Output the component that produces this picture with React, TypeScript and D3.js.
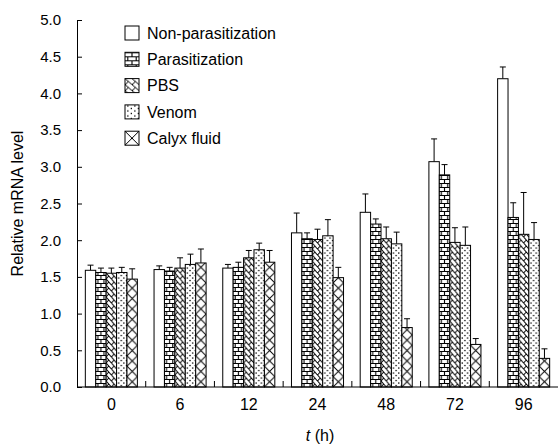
import React, { useEffect, useRef } from "react";
import * as d3 from "d3";

const times = ["0", "6", "12", "24", "48", "72", "96"];
const seriesNames = ["Non-parasitization", "Parasitization", "PBS", "Venom", "Calyx fluid"];

const nonParasitization = [1.59, 1.6, 1.62, 2.1, 2.38, 3.07, 4.2];
const nonParasitizationErr = [0.07, 0.05, 0.05, 0.27, 0.25, 0.31, 0.16];
const parasitization = [1.56, 1.58, 1.63, 2.02, 2.22, 2.89, 2.31];
const parasitizationErr = [0.06, 0.05, 0.07, 0.08, 0.07, 0.14, 0.2];
const pbs = [1.55, 1.62, 1.76, 2.01, 2.02, 1.97, 2.08];
const pbsErr = [0.07, 0.14, 0.1, 0.14, 0.16, 0.2, 0.57];
const venom = [1.56, 1.67, 1.87, 2.06, 1.95, 1.93, 2.01];
const venomErr = [0.07, 0.14, 0.09, 0.22, 0.16, 0.25, 0.23];
const calyx = [1.47, 1.69, 1.7, 1.49, 0.81, 0.58, 0.39];
const calyxErr = [0.14, 0.19, 0.16, 0.14, 0.12, 0.08, 0.13];

const yTicks = [0, 0.5, 1, 1.5, 2, 2.5, 3, 3.5, 4, 4.5, 5];

const FONT = "'Liberation Sans', Arial, sans-serif";

// draws the tile content of a pattern for a given series, tile width w
function fillPattern(p: any, kind: number, w: number) {
  if (kind === 1) {
    p.append("path")
      .attr("d", `M0,0.5H${w}M0,4.5H${w}M${w / 2},0.5V4.5M${w * 0.2},4.5V8.5M${w * 0.8},4.5V8.5`)
      .attr("stroke", "#000").attr("stroke-width", 1.1).attr("fill", "none");
  } else if (kind === 2) {
    p.append("path")
      .attr("d", `M0,0L${w / 2},6M${w / 2},0L${w},6M${w / 2},6L${w * 0.75},3M0,6L${w * 0.25},3`)
      .attr("stroke", "#000").attr("stroke-width", 1).attr("fill", "none");
  } else if (kind === 3) {
    [[0.2, 1], [0.7, 1], [0.45, 3.5], [0.95, 3.5]].forEach(([fx, fy]) => {
      p.append("rect").attr("x", w * fx - 0.6).attr("y", fy - 0.6).attr("width", 1.3).attr("height", 1.3).attr("fill", "#000");
    });
  } else if (kind === 4) {
    p.append("path")
      .attr("d", `M0,0L${w},${w}M${w},0L0,${w}`)
      .attr("stroke", "#000").attr("stroke-width", 1).attr("fill", "none");
  }
}

function tileHeight(kind: number, w: number) {
  if (kind === 1) return 8;
  if (kind === 2) return 6;
  if (kind === 3) return 5;
  return w;
}

export default function App() {
  const ref = useRef<SVGSVGElement>(null);

  useEffect(() => {
    const width = 558;
    const height = 446;
    const left = 77;
    const right = 558;
    const top = 20;
    const bottom = 387;

    const values = [nonParasitization, parasitization, pbs, venom, calyx];
    const errs = [nonParasitizationErr, parasitizationErr, pbsErr, venomErr, calyxErr];

    const svg = d3.select(ref.current).attr("width", width).attr("height", height);
    svg.selectAll("*").remove();
    const defs = svg.append("defs");

    const x0 = d3.scaleBand().domain(times).range([left, right]).padding(0);
    const x1 = d3.scaleBand().domain(seriesNames).range([0, x0.bandwidth()]).paddingInner(0).paddingOuter(0.8);
    const y = d3.scaleLinear().domain([0, 5]).range([bottom, top]);

    const bw = x1.bandwidth();

    // bars
    const g = svg.append("g");
    times.forEach((t, i) => {
      seriesNames.forEach((s, k) => {
        const bx = x0(t)! + x1(s)!;
        const v = values[k][i];
        let fill = "#fff";
        if (k > 0) {
          const id = `pat-${k}-${i}`;
          const p = defs.append("pattern").attr("id", id).attr("patternUnits", "userSpaceOnUse")
            .attr("x", bx).attr("y", y(0)).attr("width", bw).attr("height", tileHeight(k, bw));
          p.append("rect").attr("width", bw).attr("height", tileHeight(k, bw)).attr("fill", "#fff");
          fillPattern(p, k, bw);
          fill = `url(#${id})`;
        }
        const top = v + errs[k][i];
        g.append("line").attr("x1", bx + bw / 2).attr("x2", bx + bw / 2)
          .attr("y1", y(v)).attr("y2", y(top)).attr("stroke", "#000");
        g.append("line").attr("x1", bx + bw / 2 - 3).attr("x2", bx + bw / 2 + 3)
          .attr("y1", y(top)).attr("y2", y(top)).attr("stroke", "#000");
        g.append("rect").attr("x", bx).attr("y", y(v)).attr("width", bw).attr("height", y(0) - y(v))
          .attr("fill", fill).attr("stroke", "#000").attr("stroke-width", 1);
      });
    });

    // y axis
    const yAxis = d3.axisLeft(y).tickValues(yTicks).tickFormat(d3.format(".1f")).tickSizeInner(-5).tickSizeOuter(0).tickPadding(16);
    const ya = svg.append("g").attr("transform", `translate(${left},0)`).call(yAxis);
    ya.selectAll("text").attr("font-family", FONT).attr("font-size", 15).attr("fill", "#000");
    ya.select(".domain").attr("stroke", "#000");

    // x axis
    const xa = svg.append("g").attr("transform", `translate(0,${bottom})`);
    xa.append("line").attr("x1", left).attr("x2", right).attr("stroke", "#000");
    times.forEach((t, i) => {
      if (i > 0) {
        xa.append("line").attr("x1", x0(t)!).attr("x2", x0(t)!).attr("y1", 0).attr("y2", -6).attr("stroke", "#000");
      }
      xa.append("text").attr("x", x0(t)! + x0.bandwidth() / 2).attr("y", 23)
        .attr("text-anchor", "middle").attr("font-family", FONT).attr("font-size", 16).text(t);
    });

    // axis titles
    const xt = svg.append("text").attr("x", 320).attr("y", 441).attr("text-anchor", "middle")
      .attr("font-family", FONT).attr("font-size", 16);
    xt.append("tspan").attr("font-style", "italic").text("t");
    xt.append("tspan").text(" (h)");

    svg.append("text").attr("transform", `translate(23,${(top + bottom) / 2}) rotate(-90)`)
      .attr("text-anchor", "middle").attr("font-family", FONT).attr("font-size", 16).text("Relative mRNA level");

    // legend
    const lg = svg.append("g");
    seriesNames.forEach((s, k) => {
      const ly = 26 + k * 26.3;
      const lx = 125;
      const sz = 14;
      let fill = "#fff";
      if (k > 0) {
        const id = `leg-${k}`;
        const p = defs.append("pattern").attr("id", id).attr("patternUnits", "userSpaceOnUse")
          .attr("x", lx).attr("y", ly).attr("width", sz).attr("height", tileHeight(k, sz));
        p.append("rect").attr("width", sz).attr("height", tileHeight(k, sz)).attr("fill", "#fff");
        fillPattern(p, k, sz);
        fill = `url(#${id})`;
      }
      lg.append("rect").attr("x", lx).attr("y", ly).attr("width", sz).attr("height", sz)
        .attr("fill", fill).attr("stroke", "#000");
      lg.append("text").attr("x", 147).attr("y", ly + sz / 2).attr("dy", "0.36em")
        .attr("font-family", FONT).attr("font-size", 16).text(s);
    });
  }, []);

  return (
    <svg ref={ref} style={{ position: "absolute", left: 0, top: 0, background: "#fff" }}></svg>
  );
}
